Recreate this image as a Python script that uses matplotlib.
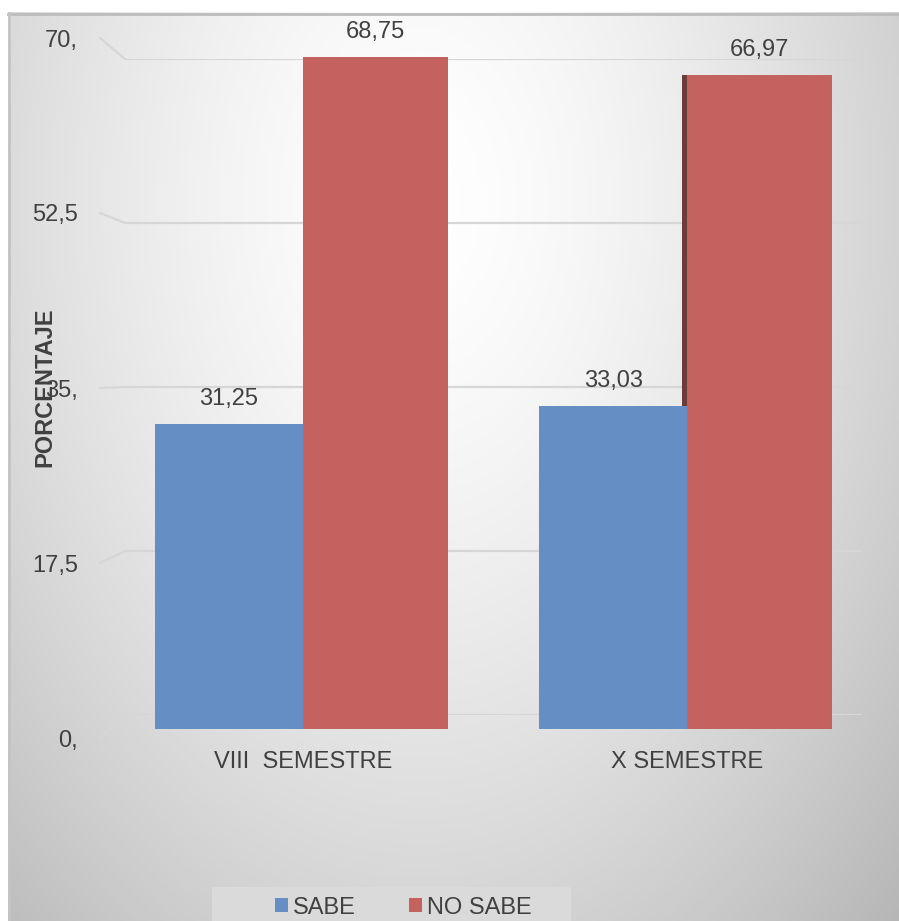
import numpy as np
import matplotlib
matplotlib.use("Agg")
import matplotlib.pyplot as plt
from matplotlib.patches import Rectangle, ConnectionPatch

# ---- data ----
categories = ["VIII  SEMESTRE", "X SEMESTRE"]
series_names = ["SABE", "NO SABE"]
sabe = [31.25, 33.03]
no_sabe = [68.75, 66.97]
sabe_labels = ["31,25", "33,03"]
no_sabe_labels = ["68,75", "66,97"]
ytick_values = [0, 17.5, 35, 52.5, 70]
ytick_labels = ["0,", "17,5", "35,", "52,5", "70,"]
y_max = 70

# ---- style ----
W, H = 899, 921
TEXT = "#404040"
GRID = "#d6d6d6"
BLUE = "#658fc4"
RED = "#c4625f"
SIDE = "#6b3c3a"
FS = 17

plt.rcParams["font.family"] = ["Liberation Sans", "DejaVu Sans"]

fig = plt.figure(figsize=(W / 100, H / 100), dpi=100)
fig.patch.set_facecolor("white")


def box(x0, y0, x1, y1):
    """Pixel box (top-left origin) -> figure fraction rect."""
    return [x0 / W, 1 - y1 / H, (x1 - x0) / W, (y1 - y0) / H]


# ---- chart area background: soft radial gradient ----
ax_bg = fig.add_axes([0, 0, 1, 1], zorder=0)
yy, xx = np.mgrid[0:H, 0:W]
d = np.sqrt(((xx - 420) / 520.0) ** 2 + ((yy - 200) / 800.0) ** 2)
val = np.clip(1 - (50 * d ** 1.5) / 255.0, 0, 1)
img = np.dstack([val, val, val])
img[(xx < 8) | (yy < 13)] = 1.0
ax_bg.imshow(img, extent=(0, W, H, 0), aspect="auto", interpolation="bilinear")
ax_bg.set_xlim(0, W)
ax_bg.set_ylim(H, 0)
ax_bg.axis("off")
ax_bg.plot([8, W], [14, 14], color="#bcbcbc", lw=2)
ax_bg.plot([9, 9], [13, H], color="#c4c4c4", lw=2)
# legend panel
ax_bg.add_patch(Rectangle((212, 887), 359, 40, facecolor="#dadada", edgecolor="none"))

# ---- back wall: gridlines ----
ax_back = fig.add_axes(box(125, 59, 862, 715), zorder=1)
ax_back.set_xlim(0, 1)
ax_back.set_ylim(0, y_max)
ax_back.hlines(ytick_values, 0, 1, color=GRID, lw=1.6)
ax_back.axis("off")
ax_back.patch.set_alpha(0)

# ---- front plane: value axis labels ----
ax_front = fig.add_axes(box(100, 38, 862, 738), zorder=1)
ax_front.set_ylim(0, y_max)
ax_front.set_xlim(0, 1)
ax_front.patch.set_alpha(0)
for s in ax_front.spines.values():
    s.set_visible(False)
ax_front.set_xticks([])
ax_front.set_yticks(ytick_values)
ax_front.set_yticklabels(ytick_labels)
ax_front.tick_params(axis="y", length=0, pad=16, labelsize=FS, labelcolor=TEXT)

# slanted floor/wall joins between front labels and back gridlines
for v in ytick_values:
    cp = ConnectionPatch(xyA=(0, v), coordsA=ax_front.get_yaxis_transform(),
                         xyB=(0, v), coordsB=ax_back.get_yaxis_transform(),
                         color=GRID, lw=1.6)
    fig.add_artist(cp)

# ---- bars ----
ax_bars = fig.add_axes(box(125, 45, 862, 729), zorder=2)
ax_bars.set_ylim(0, y_max)
ax_bars.set_xlim(-0.4635, 1.4557)
ax_bars.patch.set_alpha(0)
for s in ax_bars.spines.values():
    s.set_visible(False)
ax_bars.set_yticks([])

x = np.arange(len(categories))
bw_blue = 0.385
bw_red = 0.378
x_blue = x - bw_blue / 2
x_red = x + bw_red / 2

# visible left side face of the right-hand red bar
side_w = 0.012
ax_bars.bar(x[1] - side_w / 2, no_sabe[1], width=side_w, color=SIDE, zorder=1)

b1 = ax_bars.bar(x_blue, sabe, width=bw_blue, color=BLUE, zorder=3, label=series_names[0])
b2 = ax_bars.bar(x_red, no_sabe, width=bw_red, color=RED, zorder=2, label=series_names[1])

for xi, v, lab in zip(x_blue, sabe, sabe_labels):
    ax_bars.annotate(lab, (xi, v), xytext=(0, 18), textcoords="offset points",
                     ha="center", va="center", fontsize=FS, color=TEXT)
for xi, v, lab in zip(x_red, no_sabe, no_sabe_labels):
    ax_bars.annotate(lab, (xi, v), xytext=(0, 18), textcoords="offset points",
                     ha="center", va="center", fontsize=FS, color=TEXT)

ax_bars.set_xticks(x)
ax_bars.set_xticklabels(categories)
ax_bars.tick_params(axis="x", length=0, pad=16, labelsize=FS, labelcolor=TEXT)

# ---- axis title ----
fig.text(45 / W, 1 - 387 / H, "PORCENTAJE", rotation=90, ha="center", va="center",
         fontsize=FS, fontweight="bold", color=TEXT)

# ---- legend ----
fig.legend(handles=[b1, b2], labels=series_names, ncol=2, loc="center left",
           bbox_to_anchor=(263 / W, 1 - 907.5 / H), frameon=False, borderpad=0,
           handlelength=0.55, handleheight=0.55, handletextpad=0.22,
           columnspacing=2.25, fontsize=FS, labelcolor=TEXT)

fig.savefig("out.png", dpi=100)
